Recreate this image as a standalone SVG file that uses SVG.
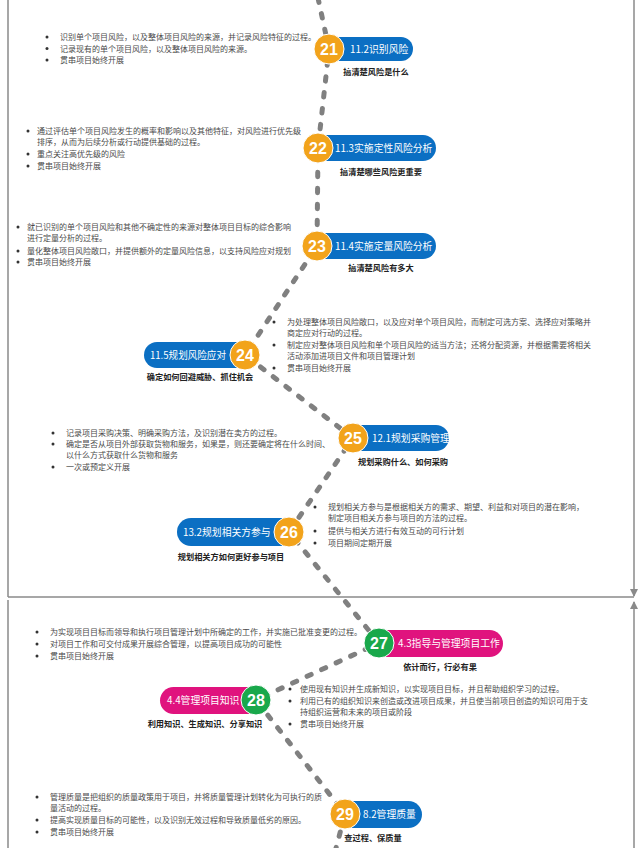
<svg xmlns="http://www.w3.org/2000/svg" width="641" height="848" viewBox="0 0 641 848">
<defs>
<style>
.b{font-family:"Noto Sans CJK SC","Noto Sans",sans-serif;font-size:8px;fill:#4a4a4a}
.t{font-family:"Noto Sans CJK SC","Noto Sans",sans-serif;font-size:9.8px;fill:#fff}
.s{font-family:"Noto Sans CJK SC","Noto Sans",sans-serif;font-size:8.2px;font-weight:bold;fill:#222;text-anchor:middle}
.n{font-family:"Liberation Sans","Noto Sans",sans-serif;font-size:16px;font-weight:bold;fill:#fff;text-anchor:middle}
.dot{fill:#333}
.blue{fill:#0b6fc3}
.mag{fill:#e0137e}
.org{fill:#f2a31b;stroke:#fff;stroke-width:1}
.grn{fill:#19a84b;stroke:#fff;stroke-width:1}
.frame{stroke:#8a8a8a;stroke-width:1.5;fill:none}
.dash{stroke:#808080;stroke-width:5;fill:none;stroke-dasharray:4.5 11.5;stroke-linecap:round}
</style>
<marker id="ah" markerWidth="8" markerHeight="8" refX="7" refY="4" orient="auto" markerUnits="userSpaceOnUse">
<path d="M0,0 L8,4 L0,8 Z" fill="#8a8a8a"/>
</marker>
</defs>
<rect width="641" height="848" fill="#fff"/>
<g id="frame">
<line class="frame" x1="8" y1="0" x2="8" y2="597"/>
<line class="frame" x1="8" y1="597" x2="634" y2="597"/>
<line class="frame" x1="634" y1="0" x2="634" y2="596" marker-end="url(#ah)"/>
<line class="frame" x1="8" y1="600" x2="8" y2="848"/>
<line class="frame" x1="634" y1="848" x2="634" y2="602" marker-end="url(#ah)"/>
</g>
<g id="connectors">
<path class="dash" d="M318,-2 L329,49 L318,148 L317,246 L245,355 L353,438 L289,532 L379,643 L256,700 L345,814 L335,852"/>
</g>
<g id="n21">
<rect class="blue" x="320" y="37" width="93" height="24" rx="12"/>
<circle class="org" cx="329" cy="49" r="15"/>
<text class="n" x="329" y="55">21</text>
<text class="t" x="350" y="52.5">11.2识别风险</text>
<text class="s" x="376" y="75">搞清楚风险是什么</text>
<circle class="dot" cx="47" cy="37" r="1.5"/><text class="b" x="60" y="40">识别单个项目风险，以及整体项目风险的来源，并记录风险特征的过程。</text>
<circle class="dot" cx="47" cy="48.5" r="1.5"/><text class="b" x="60" y="51.5">记录现有的单个项目风险，以及整体项目风险的来源。</text>
<circle class="dot" cx="47" cy="60" r="1.5"/><text class="b" x="60" y="63">贯串项目始终开展</text>
</g>
<g id="n22">
<rect class="blue" x="310" y="135" width="126" height="26" rx="13"/>
<circle class="org" cx="318" cy="148" r="15"/>
<text class="n" x="318" y="154">22</text>
<text class="t" x="335" y="151.5">11.3实施定性风险分析</text>
<text class="s" x="381" y="175">搞清楚哪些风险更重要</text>
<circle class="dot" cx="28" cy="131" r="1.5"/><text class="b" x="37" y="134">通过评估单个项目风险发生的概率和影响以及其他特征，对风险进行优先级</text>
<text class="b" x="37" y="145">排序，从而为后续分析或行动提供基础的过程。</text>
<circle class="dot" cx="28" cy="154" r="1.5"/><text class="b" x="37" y="157">重点关注高优先级的风险</text>
<circle class="dot" cx="28" cy="166" r="1.5"/><text class="b" x="37" y="169">贯串项目始终开展</text>
</g>
<g id="n23">
<rect class="blue" x="310" y="233" width="126" height="26" rx="13"/>
<circle class="org" cx="317" cy="246" r="15"/>
<text class="n" x="317" y="252">23</text>
<text class="t" x="335" y="249.5">11.4实施定量风险分析</text>
<text class="s" x="381" y="271">搞清楚风险有多大</text>
<circle class="dot" cx="18" cy="227" r="1.5"/><text class="b" x="27" y="230">就已识别的单个项目风险和其他不确定性的来源对整体项目目标的综合影响</text>
<text class="b" x="27" y="241">进行定量分析的过程。</text>
<circle class="dot" cx="18" cy="251" r="1.5"/><text class="b" x="27" y="254">量化整体项目风险敞口，并提供额外的定量风险信息，以支持风险应对规划</text>
<circle class="dot" cx="18" cy="262" r="1.5"/><text class="b" x="27" y="265">贯串项目始终开展</text>
</g>
<g id="n24">
<rect class="blue" x="144" y="342" width="108" height="26" rx="13"/>
<circle class="org" cx="245" cy="355" r="15"/>
<text class="n" x="245" y="361">24</text>
<text class="t" x="150" y="358.5" textLength="76" lengthAdjust="spacingAndGlyphs">11.5规划风险应对</text>
<text class="s" x="200" y="380">确定如何回避威胁、抓住机会</text>
<circle class="dot" cx="274" cy="322" r="1.5"/><text class="b" x="287" y="325">为处理整体项目风险敞口，以及应对单个项目风险，而制定可选方案、选择应对策略并</text>
<text class="b" x="287" y="336">商定应对行动的过程。</text>
<circle class="dot" cx="274" cy="345" r="1.5"/><text class="b" x="287" y="348">制定应对整体项目风险和单个项目风险的适当方法；还将分配资源，并根据需要将相关</text>
<text class="b" x="287" y="359">活动添加进项目文件和项目管理计划</text>
<circle class="dot" cx="274" cy="368" r="1.5"/><text class="b" x="287" y="371">贯串项目始终开展</text>
</g>
<g id="n25">
<rect class="blue" x="345" y="425" width="104" height="26" rx="13"/>
<circle class="org" cx="353" cy="438" r="15"/>
<text class="n" x="353" y="444">25</text>
<text class="t" x="372" y="441.5">12.1规划采购管理</text>
<text class="s" x="403" y="465">规划采购什么、如何采购</text>
<circle class="dot" cx="53" cy="433" r="1.5"/><text class="b" x="66" y="436">记录项目采购决策、明确采购方法，及识别潜在卖方的过程。</text>
<circle class="dot" cx="53" cy="444" r="1.5"/><text class="b" x="66" y="447">确定是否从项目外部获取货物和服务，如果是，则还要确定将在什么时间、</text>
<text class="b" x="66" y="458">以什么方式获取什么货物和服务</text>
<circle class="dot" cx="53" cy="467" r="1.5"/><text class="b" x="66" y="470">一次或预定义开展</text>
</g>
<g id="n26">
<rect class="blue" x="177" y="518" width="120" height="28" rx="14"/>
<circle class="org" cx="289" cy="532" r="15"/>
<text class="n" x="289" y="538">26</text>
<text class="t" x="183" y="535.5">13.2规划相关方参与</text>
<text class="s" x="231" y="560">规划相关方如何更好参与项目</text>
<circle class="dot" cx="315" cy="507" r="1.5"/><text class="b" x="328" y="510">规划相关方参与是根据相关方的需求、期望、利益和对项目的潜在影响，</text>
<text class="b" x="328" y="521">制定项目相关方参与项目的方法的过程。</text>
<circle class="dot" cx="315" cy="531" r="1.5"/><text class="b" x="328" y="534">提供与相关方进行有效互动的可行计划</text>
<circle class="dot" cx="315" cy="543" r="1.5"/><text class="b" x="328" y="546">项目期间定期开展</text>
</g>
<g id="n27">
<rect class="mag" x="371" y="630" width="132" height="27" rx="13.5"/>
<circle class="grn" cx="379" cy="643" r="15"/>
<text class="n" x="379" y="649">27</text>
<text class="t" x="398" y="646.5">4.3指导与管理项目工作</text>
<text class="s" x="440" y="670">依计而行，行必有果</text>
<circle class="dot" cx="37" cy="632" r="1.5"/><text class="b" x="50" y="635">为实现项目目标而领导和执行项目管理计划中所确定的工作，并实施已批准变更的过程。</text>
<circle class="dot" cx="37" cy="644" r="1.5"/><text class="b" x="50" y="647">对项目工作和可交付成果开展综合管理，以提高项目成功的可能性</text>
<circle class="dot" cx="37" cy="656" r="1.5"/><text class="b" x="50" y="659">贯串项目始终开展</text>
</g>
<g id="n28">
<rect class="mag" x="160" y="687" width="104" height="27" rx="13.5"/>
<circle class="grn" cx="256" cy="700" r="15"/>
<text class="n" x="256" y="706">28</text>
<text class="t" x="167" y="703.5">4.4管理项目知识</text>
<text class="s" x="205" y="727">利用知识、生成知识、分享知识</text>
<circle class="dot" cx="290" cy="689" r="1.5"/><text class="b" x="300" y="692">使用现有知识并生成新知识，以实现项目目标，并且帮助组织学习的过程。</text>
<circle class="dot" cx="290" cy="701" r="1.5"/><text class="b" x="300" y="704">利用已有的组织知识来创造或改进项目成果，并且使当前项目创造的知识可用于支</text>
<text class="b" x="300" y="715">持组织运营和未来的项目或阶段</text>
<circle class="dot" cx="290" cy="724" r="1.5"/><text class="b" x="300" y="727">贯串项目始终开展</text>
</g>
<g id="n29">
<rect class="blue" x="337" y="801" width="85" height="27" rx="13.5"/>
<circle class="org" cx="345" cy="814" r="15"/>
<text class="n" x="345" y="820">29</text>
<text class="t" x="363" y="817.5">8.2管理质量</text>
<text class="s" x="373" y="841">查过程、保质量</text>
<circle class="dot" cx="37" cy="797" r="1.5"/><text class="b" x="50" y="800">管理质量是把组织的质量政策用于项目，并将质量管理计划转化为可执行的质</text>
<text class="b" x="50" y="811">量活动的过程。</text>
<circle class="dot" cx="37" cy="820" r="1.5"/><text class="b" x="50" y="823">提高实现质量目标的可能性，以及识别无效过程和导致质量低劣的原因。</text>
<circle class="dot" cx="37" cy="832" r="1.5"/><text class="b" x="50" y="835">贯串项目始终开展</text>
</g>
</svg>
